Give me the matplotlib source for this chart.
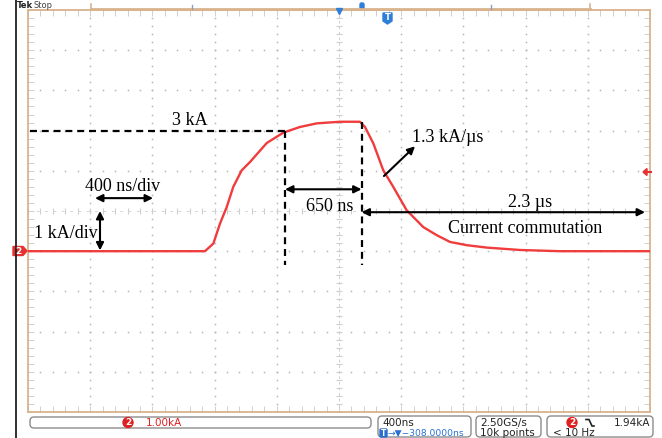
import numpy as np
import matplotlib
matplotlib.use('Agg')
import matplotlib.pyplot as plt
from matplotlib.patches import FancyBboxPatch, Polygon, Circle

# ---- data (time in ns from left edge of screen, current in kA) ----
time_ns = [0, 1138, 1192, 1235, 1278, 1320, 1374, 1428, 1535, 1642, 1749, 1857,
           2006, 2135, 2167, 2221, 2285, 2349, 2435, 2542, 2628, 2714, 2821,
           2950, 3164, 3421, 4000]
current_kA = [0, 0, 0.19, 0.69, 1.10, 1.60, 2.01, 2.22, 2.69, 2.95, 3.09, 3.18,
              3.22, 3.22, 3.09, 2.68, 2.01, 1.60, 1.02, 0.60, 0.40, 0.23, 0.15,
              0.09, 0.03, 0.0, 0.0]
ns_per_div = 400
kA_per_div = 1
n_hdiv, n_vdiv = 10, 10
y_low = -4
trigger_level_kA = 1.94

plt.rcParams['lines.scale_dashes'] = False
serif = ['Liberation Serif', 'DejaVu Serif']
sans = ['DejaVu Sans']

W, H = 662, 438
fig = plt.figure(figsize=(W / 100, H / 100), dpi=100)
fig.patch.set_facecolor('white')

L, R, T, B = 28, 650, 10, 412
ax = fig.add_axes([L / W, 1 - B / H, (R - L) / W, (B - T) / H])
xmax = ns_per_div * n_hdiv
ymax = y_low + kA_per_div * n_vdiv
ax.set_xlim(0, xmax)
ax.set_ylim(y_low, ymax)
ax.set_xticks([])
ax.set_yticks([])
tan = '#d9b38c'
for s in ax.spines.values():
    s.set_color(tan)
    s.set_linewidth(1.3)

grid_col = '#b5b5b5'
tick_col = '#cfcfcf'
xs_minor = np.arange(0, xmax + 0.1, ns_per_div / 5)
ys_minor = np.arange(y_low, ymax + 0.01, kA_per_div / 5)
xc = xmax / 2
yc = (y_low + ymax) / 2
for xm in np.arange(ns_per_div, xmax, ns_per_div):
    if xm == xc:
        continue
    ax.plot(np.full_like(ys_minor, xm), ys_minor, ls='none', marker='s', ms=1.1,
            mew=0, color=grid_col)
for ym in np.arange(y_low + 1, ymax, kA_per_div):
    if ym == yc:
        continue
    ax.plot(xs_minor, np.full_like(xs_minor, ym), ls='none', marker='s', ms=1.1,
            mew=0, color=grid_col)
# center crosshair with ticks
ax.plot([xc, xc], [y_low, ymax], color=tick_col, lw=0.7, ls=(0, (2, 2)))
ax.plot(np.full_like(ys_minor, xc), ys_minor, ls='none', marker='_', ms=5,
        mew=0.8, color=tick_col)
ax.plot([0, xmax], [yc, yc], color=tick_col, lw=0.6, ls=(0, (2, 4)))
ax.plot(xs_minor, np.full_like(xs_minor, yc), ls='none', marker='|', ms=5,
        mew=0.8, color=tick_col)
# border ticks (half clipped -> inward)
for yb in (y_low, ymax):
    ax.plot(xs_minor, np.full_like(xs_minor, yb), ls='none', marker='|', ms=8,
            mew=0.7, color=tick_col)
for xb in (0, xmax):
    ax.plot(np.full_like(ys_minor, xb), ys_minor, ls='none', marker='_', ms=8,
            mew=0.7, color=tick_col)

# waveform
ax.plot(time_ns, current_kA, color='#f03c3c', lw=1.7, zorder=3,
        solid_joinstyle='round')

# annotations
k = 'black'
dash = (0, (5, 3.5))
ax.plot([15, 1653], [2.985, 2.985], color=k, lw=1.6, ls=dash, zorder=4)
ax.plot([1653, 1653], [2.985, -0.35], color=k, lw=1.6, ls=dash, zorder=4)
ax.plot([2145, 2145], [3.22, -0.35], color=k, lw=1.6, ls=dash, zorder=4)

arr = dict(arrowstyle='<|-|>', mutation_scale=11, lw=1.5, color=k,
           shrinkA=0, shrinkB=0)
ax.annotate('', xy=(1653, 1.54), xytext=(2145, 1.54), arrowprops=arr, zorder=4)
ax.annotate('', xy=(2145, 0.97), xytext=(3968, 0.97), arrowprops=arr, zorder=4)
ax.annotate('', xy=(431, 1.32), xytext=(804, 1.32), arrowprops=arr, zorder=4)
ax.annotate('', xy=(463, 1.0), xytext=(463, 0.02), arrowprops=arr, zorder=4)
ax.annotate('', xy=(2489, 2.61), xytext=(2289, 1.87),
            arrowprops=dict(arrowstyle='-|>', mutation_scale=11, lw=1.5,
                            color=k, shrinkA=0, shrinkB=0), zorder=4)

fs = 13
ax.text(1042, 3.26, '3 kA', family=serif, fontsize=fs, ha='center', va='center')
ax.text(1942, 1.12, '650 ns', family=serif, fontsize=fs, ha='center', va='center')
ax.text(3228, 1.22, '2.3 µs', family=serif, fontsize=fs, ha='center', va='center')
ax.text(3196, 0.57, 'Current commutation', family=serif, fontsize=fs,
        ha='center', va='center')
ax.text(2469, 2.84, '1.3 kA/µs', family=serif, fontsize=fs, ha='left', va='center')
ax.text(611, 1.62, '400 ns/div', family=serif, fontsize=fs, ha='center', va='center')
ax.text(244, 0.45, '1 kA/div', family=serif, fontsize=fs, ha='center', va='center')

# ---- oscilloscope chrome (pixel overlay) ----
ov = fig.add_axes([0, 0, 1, 1])
ov.set_xlim(0, W)
ov.set_ylim(H, 0)
ov.axis('off')
ov.patch.set_alpha(0)
ov.set_zorder(5)

ov.plot([15.5, 15.5], [0, H], color='#202020', lw=1.3)
ov.text(17, 0.5, 'Tek', fontsize=6, fontweight='bold', family=sans, va='top',
        color='#222')
ov.text(33, 0.5, 'Stop', fontsize=6, family=sans, va='top', color='#444')

ov.plot([91, 590], [9, 9], color=tan, lw=2)
for xx in (91, 590):
    ov.plot([xx, xx], [4, 10], color=tan, lw=1.2)
for xx in (192, 491):
    ov.plot([xx, xx], [5, 9], color='#8aa0c0', lw=1)
ov.add_patch(FancyBboxPatch((360, 3), 4, 6, boxstyle='round,pad=0,rounding_size=1.5',
                            color='#2f7fd8'))
ov.plot([339], [11], marker='v', ms=5, color='#2f7fd8')
ov.add_patch(Polygon([[383, 13], [392, 13], [392, 21], [387.5, 24], [383, 21]],
                     closed=True, color='#2f7fd8'))
ov.text(387.5, 17.5, 'T', fontsize=6, color='white', ha='center', va='center',
        fontweight='bold', family=sans)

# channel 2 ground marker
ov.add_patch(Polygon([[13, 246.5], [23, 246.5], [27, 251], [23, 255.5], [13, 255.5]],
                     closed=True, color='#e83030'))
ov.text(18.5, 251.3, '2', fontsize=6.5, color='white', ha='center', va='center',
        fontweight='bold', family=sans)
# trigger level marker
ov.add_patch(Polygon([[643, 172], [647, 168.5], [647, 175.5]], closed=True,
                     color='#e83030'))
ov.plot([646, 651], [172, 172], color='#e83030', lw=1.5)

# status bar
box_kw = dict(boxstyle='round,pad=0,rounding_size=4', fc='white', ec='#8c8c8c', lw=1)
ov.add_patch(FancyBboxPatch((30, 417), 341, 11, **box_kw))
ov.add_patch(FancyBboxPatch((378, 416), 93, 21, **box_kw))
ov.add_patch(FancyBboxPatch((476, 416), 65, 21, **box_kw))
ov.add_patch(FancyBboxPatch((547, 416), 106, 21, **box_kw))

red = '#e02020'
blue = '#2a6fd0'
sfs = 7.5
ov.add_patch(Circle((128, 422.5), 5, color=red))
ov.text(128, 422.8, '2', fontsize=6.5, color='white', ha='center', va='center',
        fontweight='bold', family=sans)
ov.text(146, 422.8, '1.00kA', fontsize=sfs, color=red, va='center', family=sans)

ov.text(382, 423, '400ns', fontsize=sfs, color='#222', va='center', family=sans)
ov.add_patch(FancyBboxPatch((380, 429), 7, 8, boxstyle='round,pad=0,rounding_size=1',
                            color=blue))
ov.text(383.5, 433, 'T', fontsize=5.5, color='white', ha='center', va='center',
        fontweight='bold', family=sans)
ov.text(388, 433, '→▼−308.0000ns', fontsize=6.6, color=blue, va='center',
        family=sans)

ov.text(480, 423, '2.50GS/s', fontsize=sfs, color='#222', va='center', family=sans)
ov.text(480, 433, '10k points', fontsize=sfs, color='#222', va='center', family=sans)

ov.add_patch(Circle((572, 422.5), 5, color=red))
ov.text(572, 422.8, '2', fontsize=6.5, color='white', ha='center', va='center',
        fontweight='bold', family=sans)
ov.plot([586, 589, 592, 594], [419.5, 419.5, 426, 426], color='#222', lw=1.2)
ov.text(650, 423, '1.94kA', fontsize=sfs, color='#222', va='center', ha='right',
        family=sans)
ov.text(553, 433, '< 10 Hz', fontsize=sfs, color='#222', va='center', family=sans)

fig.savefig('out.png', dpi=100)
